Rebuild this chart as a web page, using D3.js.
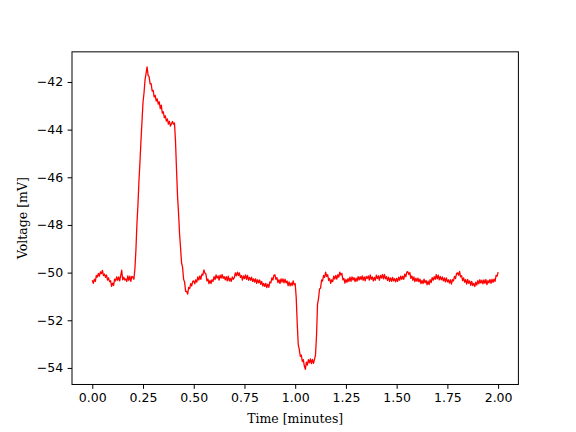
<!DOCTYPE html>
<html>
<head>
<meta charset="utf-8">
<script src="https://cdn.jsdelivr.net/npm/d3@7"></script>
<style>
html,body{margin:0;padding:0;background:#fff;}
svg{display:block;}
</style>
</head>
<body>
<svg id="chart" width="576" height="432"></svg>
<script>
// Time step between samples (minutes) and voltage samples (mV)
const timeStart = 0;
const timeStep = 0.005;
const voltage = [
 // 0.000 - 0.095
 -50.32,-50.45,-50.28,-50.37,-50.12,-50.19,-50.03,-50.15,-49.97,-50.04,-49.91,-50.13,-50.06,-50.20,-50.10,-50.31,-50.22,-50.38,-50.34,-50.58,
 // 0.100 - 0.195
 -50.44,-50.54,-50.27,-50.35,-50.18,-50.32,-50.18,-50.35,-50.13,-49.90,-50.30,-50.19,-50.31,-50.27,-50.37,-50.14,-50.33,-50.15,-50.37,-50.16,
 // 0.200 - 0.295
 -50.19,-50.28,-49.85,-49.05,-47.95,-47.15,-46.15,-45.35,-44.45,-43.65,-42.85,-42.45,-41.90,-41.65,-41.37,-41.72,-41.78,-42.08,-42.07,-42.38,
 // 0.300 - 0.395
 -42.35,-42.63,-42.56,-42.80,-42.71,-42.93,-42.83,-43.12,-42.97,-43.31,-43.25,-43.50,-43.42,-43.64,-43.55,-43.77,-43.65,-43.85,-43.75,-43.66,
 // 0.400 - 0.495
 -43.77,-43.72,-44.46,-45.65,-46.77,-47.49,-48.35,-48.97,-49.59,-49.78,-50.28,-50.40,-50.79,-50.79,-50.90,-50.62,-50.67,-50.46,-50.56,-50.37,
 // 0.500 - 0.595
 -50.35,-50.47,-50.30,-50.40,-50.18,-50.31,-50.14,-50.28,-50.06,-50.10,-49.89,-50.02,-50.06,-50.35,-50.27,-50.46,-50.33,-50.46,-50.30,-50.37,
 // 0.600 - 0.695
 -50.17,-50.29,-50.10,-50.23,-50.14,-50.31,-50.11,-50.23,-50.08,-50.24,-50.17,-50.30,-50.17,-50.35,-50.15,-50.35,-50.24,-50.37,-50.18,-50.28,
 // 0.700 - 0.795
 -50.21,-50.01,-50.14,-49.98,-50.12,-50.01,-50.20,-50.12,-50.31,-50.14,-50.25,-50.10,-50.28,-50.12,-50.32,-50.20,-50.32,-50.19,-50.37,-50.26,
 // 0.800 - 0.895
 -50.40,-50.26,-50.45,-50.30,-50.43,-50.31,-50.49,-50.37,-50.56,-50.45,-50.58,-50.45,-50.63,-50.49,-50.62,-50.39,-50.43,-50.22,-50.31,-50.11,
 // 0.900 - 0.995
 -50.09,-50.28,-50.21,-50.42,-50.30,-50.46,-50.26,-50.40,-50.26,-50.43,-50.28,-50.43,-50.35,-50.55,-50.39,-50.56,-50.43,-50.54,-50.35,-50.51,
 // 1.000 - 1.095
 -50.47,-51.05,-52.14,-53.02,-53.22,-53.51,-53.46,-53.73,-53.65,-53.92,-54.06,-53.76,-53.88,-53.65,-53.79,-53.62,-53.82,-53.64,-53.81,-53.65,
 // 1.100 - 1.195
 -53.45,-52.66,-51.33,-51.08,-50.69,-50.65,-50.31,-50.35,-50.12,-50.20,-49.98,-50.16,-50.09,-50.33,-50.25,-50.45,-50.30,-50.38,-50.15,-50.27,
 // 1.200 - 1.295
 -50.12,-50.27,-50.09,-50.19,-49.98,-50.10,-50.03,-50.30,-50.24,-50.44,-50.29,-50.41,-50.25,-50.37,-50.19,-50.37,-50.18,-50.31,-50.21,-50.38,
 // 1.300 - 1.395
 -50.23,-50.36,-50.17,-50.31,-50.17,-50.29,-50.14,-50.32,-50.18,-50.35,-50.16,-50.25,-50.14,-50.31,-50.10,-50.28,-50.18,-50.35,-50.20,-50.32,
 // 1.400 - 1.495
 -50.11,-50.25,-50.14,-50.32,-50.12,-50.23,-50.08,-50.26,-50.08,-50.26,-50.17,-50.33,-50.19,-50.37,-50.22,-50.37,-50.20,-50.35,-50.25,-50.39,
 // 1.500 - 1.595
 -50.24,-50.37,-50.19,-50.32,-50.15,-50.28,-50.15,-50.28,-50.06,-50.18,-49.98,-49.96,-50.08,-50.00,-50.24,-50.14,-50.32,-50.18,-50.38,-50.23,
 // 1.600 - 1.695
 -50.37,-50.23,-50.39,-50.27,-50.46,-50.33,-50.46,-50.27,-50.43,-50.33,-50.51,-50.36,-50.50,-50.30,-50.42,-50.21,-50.32,-50.17,-50.28,-50.08,
 // 1.700 - 1.795
 -50.26,-50.11,-50.30,-50.16,-50.30,-50.18,-50.35,-50.22,-50.39,-50.22,-50.39,-50.30,-50.44,-50.30,-50.48,-50.29,-50.35,-50.16,-50.25,-50.04,
 // 1.800 - 1.895
 -50.01,-50.11,-49.95,-50.18,-50.13,-50.34,-50.22,-50.40,-50.29,-50.48,-50.29,-50.45,-50.35,-50.53,-50.37,-50.54,-50.45,-50.59,-50.40,-50.52,
 // 1.900 - 2.000
 -50.34,-50.47,-50.30,-50.44,-50.32,-50.47,-50.31,-50.45,-50.29,-50.50,-50.34,-50.43,-50.29,-50.45,-50.28,-50.41,-50.27,-50.37,-50.12,-50.15,-49.98
];
const xTicks = [0, 0.25, 0.5, 0.75, 1.0, 1.25, 1.5, 1.75, 2.0];
const yTicks = [-54, -52, -50, -48, -46, -44, -42];
const xLabel = "Time [minutes]";
const yLabel = "Voltage [mV]";

(function () {
const data = voltage.map((v, i) => ({t: timeStart + i * timeStep, v: v}));

const W = 576, H = 432;
const mLeft = 72, mRight = 518.4, mTop = 51.84, mBottom = 384.48;
const tickLen = 4.375, tickPad = 4.375, fs = "12.5px";

function pad(ext) { const r = ext[1] - ext[0]; return [ext[0] - 0.05 * r, ext[1] + 0.05 * r]; }

const x = d3.scaleLinear().domain(pad(d3.extent(data, d => d.t))).range([mLeft, mRight]);
const y = d3.scaleLinear().domain(pad(d3.extent(data, d => d.v))).range([mBottom, mTop]);

const svg = d3.select("#chart");
svg.append("rect").attr("width", W).attr("height", H).attr("fill", "#fff");

svg.append("clipPath").attr("id", "clip").append("rect")
  .attr("x", mLeft).attr("y", mTop).attr("width", mRight - mLeft).attr("height", mBottom - mTop);

svg.append("path")
  .datum(data)
  .attr("clip-path", "url(#clip)")
  .attr("fill", "none")
  .attr("stroke", "#ff0000")
  .attr("stroke-width", 1.3)
  .attr("stroke-linejoin", "round")
  .attr("d", d3.line().x(d => x(d.t)).y(d => y(d.v)));

const xAxis = svg.append("g").attr("transform", `translate(0,${mBottom})`)
  .call(d3.axisBottom(x).tickValues(xTicks).tickFormat(d3.format(".2f")).tickSize(tickLen).tickPadding(tickPad).tickSizeOuter(0));
const yAxis = svg.append("g").attr("transform", `translate(${mLeft},0)`)
  .call(d3.axisLeft(y).tickValues(yTicks).tickFormat(d3.format("d")).tickSize(tickLen).tickPadding(tickPad).tickSizeOuter(0));

[xAxis, yAxis].forEach(g => {
  g.select(".domain").remove();
  g.selectAll(".tick line").attr("stroke", "#000").attr("stroke-width", 1);
  g.selectAll(".tick text").attr("fill", "#000").style("font-family", "'DejaVu Sans', sans-serif").style("font-size", fs);
});

svg.append("rect")
  .attr("x", mLeft).attr("y", mTop).attr("width", mRight - mLeft).attr("height", mBottom - mTop)
  .attr("fill", "none").attr("stroke", "#000").attr("stroke-width", 1);

svg.append("text")
  .attr("x", (mLeft + mRight) / 2).attr("y", 422.5)
  .attr("text-anchor", "middle")
  .style("font-family", "'DejaVu Serif', serif").style("font-size", fs)
  .text(xLabel);

svg.append("text")
  .attr("transform", `translate(27,${(mTop + mBottom) / 2}) rotate(-90)`)
  .attr("text-anchor", "middle")
  .style("font-family", "'DejaVu Serif', serif").style("font-size", fs)
  .text(yLabel);
})();
</script>
</body>
</html>
